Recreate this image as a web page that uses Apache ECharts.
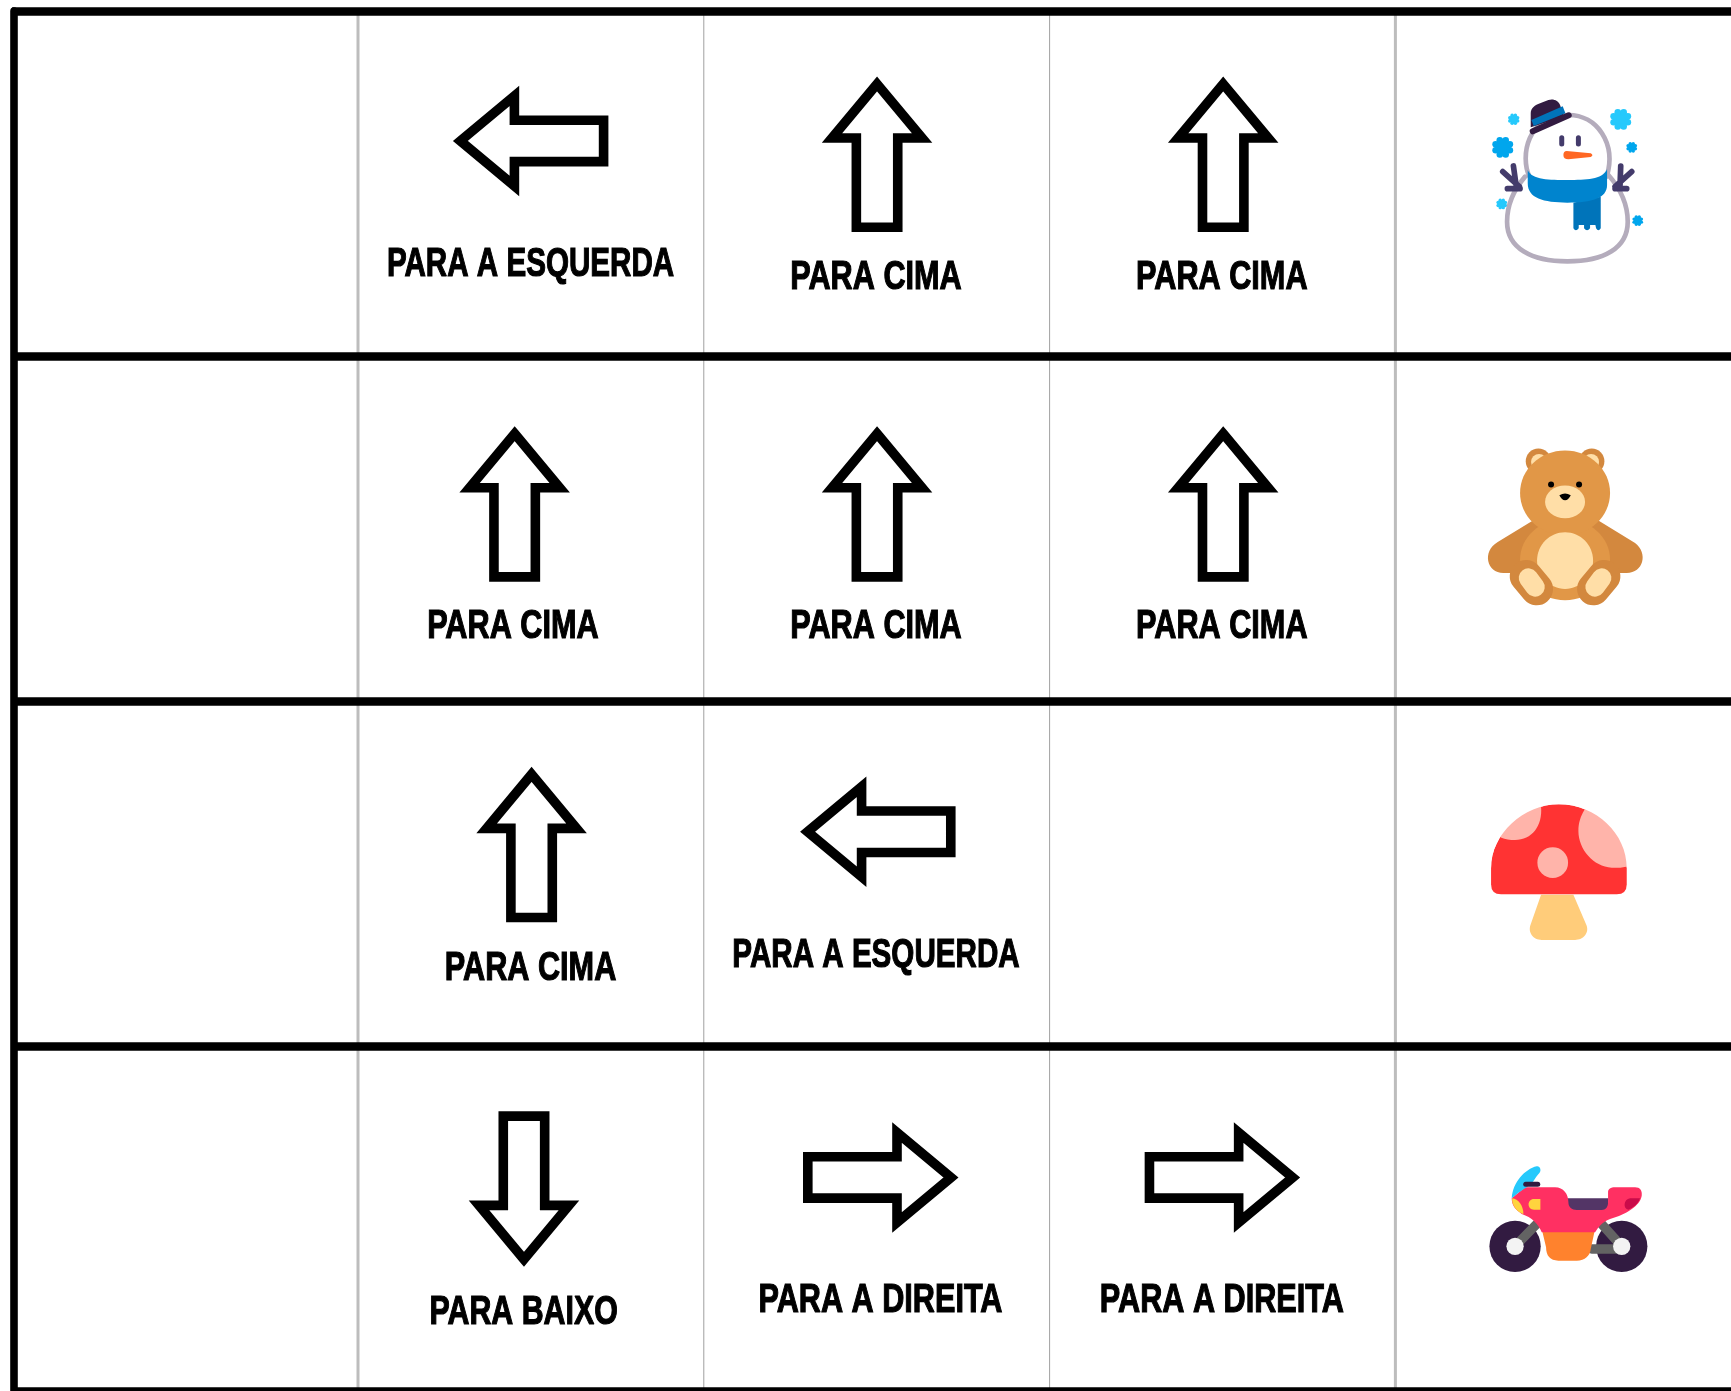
<!DOCTYPE html>
<html><head><meta charset="utf-8">
<style>html,body{margin:0;padding:0;background:#fff}#c{width:1731px;height:1391px}</style>
<script src="https://cdn.jsdelivr.net/npm/echarts@6/dist/echarts.min.js"></script>
</head><body><div id="c"></div>
<script>
// table structure, in column / row units of the axes
const columnRules = [1, 2, 3, 4];
const columnRuleWeights = [3, 1, 1, 3];

// arrows
const arrowDirections = ['left','up','up','up','up','up','up','left','down','right','right'];
const arrowCols = [1.500,2.501,3.502,1.453,2.501,3.502,1.502,2.504,1.480,2.511,3.499];
const arrowRows = [0.3765,0.416,0.416,1.4295,1.4295,1.4295,2.417,2.379,3.414,3.381,3.381];

// captions
const captionTexts = ['PARA A ESQUERDA','PARA CIMA','PARA CIMA','PARA CIMA','PARA CIMA','PARA CIMA','PARA CIMA','PARA A ESQUERDA','PARA BAIXO','PARA A DIREITA','PARA A DIREITA'];
const captionCols = [1.499,2.498,3.498,1.448,2.498,3.498,1.499,2.498,1.479,2.511,3.498];
const captionRows = [0.734,0.774,0.774,1.785,1.785,1.785,2.776,2.738,3.772,3.738,3.738];

// pictures of the last column
const iconNames = ['snowman','bear','mushroom','motorcycle'];
const iconCols = [4.187,4.187,4.187,4.187];
const iconRows = [0.1709,1.2134,2.256,3.2986];

const ROTATION = {up:0, left:Math.PI/2, down:Math.PI, right:-Math.PI/2};
const ARROW_OUTLINE = [[0,-70.5],[45,-16.5],[20.7,-16.5],[20.7,72.7],[-20.7,72.7],[-20.7,-16.5],[-45,-16.5]];
const CAPTION_STRETCH = {'PARA A ESQUERDA':0.722,'PARA CIMA':0.748,'PARA BAIXO':0.74,'PARA A DIREITA':0.747};

const p = (d, fill, extra) => ({type:'path', shape:{pathData:d}, style:Object.assign({fill}, extra||{})});
const stroke = (d, color, w) => ({type:'path', shape:{pathData:d}, style:{fill:'none', stroke:color, lineWidth:w, lineCap:'round', lineJoin:'round'}});
const circle = (cx,cy,r,fill) => ({type:'circle', shape:{cx,cy,r}, style:{fill}});
const ellipse = (cx,cy,rx,ry,fill) => ({type:'ellipse', shape:{cx,cy,rx,ry}, style:{fill}});
function flake(cx,cy,r,fill){
  const out=[circle(cx,cy,r*0.72,fill)];
  for(let i=0;i<8;i++){const a=i*Math.PI/4+Math.PI/8;out.push(circle(cx+Math.cos(a)*r*0.7,cy+Math.sin(a)*r*0.7,r*0.3,fill));}
  return out;
}
const OUTLINE='#B4ACBC', ARM='#433B6B', HAT='#321B41';
const BEAR_D='#D3883E', BEAR_M='#E19747', BEAR_L='#FFDEA7';
const SPOT='#FFB4AA';
const DRAWINGS = {
  snowman: [
    ...flake(161,148,18,'#26C9FC'),...flake(128,232,33,'#00A6ED'),...flake(482,148,33,'#26C9FC'),
    ...flake(515,232,17,'#00A6ED'),...flake(125,402,17,'#26C9FC'),...flake(533,452,17,'#00A6ED'),
    {type:'path',shape:{pathData:'M195 320C165 355 141 400 141 455C141 535 215 574 322 574C430 574 503 535 503 455C503 400 480 355 445 315'},style:{fill:'#fff',stroke:OUTLINE,lineWidth:14,lineCap:'round'}},
    {type:'path',shape:{pathData:'M208 320C180 260 200 135 325 135C410 135 470 220 440 320'},style:{fill:'#fff',stroke:OUTLINE,lineWidth:14,lineCap:'round'}},
    stroke('M160 288L168 345M128 305L178 350M142 356L180 356',ARM,17),
    stroke('M482 288L480 345M515 305L465 350M465 356L500 356',ARM,17),
    p('M340 398L422 380L422 475Q415 487 408 475L406 465L390 465L390 475Q381 487 372 475L372 465L356 465L356 475Q347 487 340 475Z','#0074BA'),
    p('M203 300C215 330 270 330 322 330C380 330 425 330 441 298L441 345C441 385 395 398 322 398C250 398 203 385 203 340Z','#0084CE'),
    stroke('M305 203L305 222M355 203L355 222',ARM,15),
    p('M320 243L392 250Q402 256 392 261L325 268Q310 268 310 255Q310 243 320 243Z','#FF6723'),
    p('M212 172L212 130C212 115 225 105 240 100L265 90C280 85 295 92 300 105L312 140Z',HAT),
    p('M214 150L308 109L316 130L221 168Z','#0074BA'),
    stroke('M218 184L326 136',HAT,18)
  ],
  bear: [
    p('M113 337L220 272L410 270L525 340C565 370 550 430 500 430L130 430C80 430 65 365 113 337Z',BEAR_D),
    circle(235,95,38,BEAR_D),circle(395,95,38,BEAR_D),
    circle(237,97,24,BEAR_L),circle(393,97,24,BEAR_L),
    ellipse(315,390,135,122,BEAR_M),
    ellipse(315,190,135,127,BEAR_M),
    ellipse(315,393,84,85,BEAR_L),
    ellipse(315,217,60,49,BEAR_L),
    circle(273,165,9,'#000'),circle(357,165,9,'#000'),
    p('M298 197Q315 186 332 197Q325 212 315 212Q305 212 298 197Z','#000'),
    stroke('M198 440L230 478',BEAR_D,98),stroke('M432 440L400 478',BEAR_D,98),
    stroke('M205 445L225 472',BEAR_L,58),stroke('M425 445L405 472',BEAR_L,58)
  ],
  mushroom: [
    p('M243 316L340 316L378 405C390 430 370 452 345 452L245 452C220 452 202 430 212 405Z','#FFCC7A'),
    p('M93 235C93 135 190 45 296 45C410 45 500 135 500 235L500 285Q500 315 470 315L123 315Q93 315 93 285Z','#FF3333'),
    p('M124 145C135 150 150 152 165 152C215 152 248 110 243 53L243 30L100 30L100 130Z',SPOT),
    p('M373 62L385 30L520 30L520 232L498 232C480 236 465 236 455 235C400 232 355 180 355 125C355 100 362 80 373 62Z',SPOT),
    circle(278,220,46,SPOT),
    p('M80 235L80 20L525 20L525 235L500 235C500 135 410 45 296 45C190 45 93 135 93 235Z','#fff')
  ],
  motorcycle: [
    circle(165,292,77,HAT),circle(485,292,77,HAT),
    stroke('M165 292L230 225M485 292L425 225M395 300L485 300','#636363',28),
    circle(165,292,26,'#F3F3F3'),circle(485,292,26,'#F3F3F3'),
    p('M245 240L405 240L392 300C390 320 375 335 350 335L295 335C270 335 258 320 258 295Z','#FF822D'),
    p('M320 148L445 148L445 170Q440 185 425 185L345 185Q325 185 320 165Z','#533566'),
    p('M195 115L285 115C310 115 325 135 325 160C325 175 335 183 350 183L425 183C437 183 444 175 444 160L444 130C444 120 452 115 465 115L525 115C540 115 547 125 545 140C540 170 500 195 450 210C425 220 415 235 405 250L245 250C235 225 215 205 185 195C165 180 155 170 155 148Z','#FF3062'),
    p('M155 148C158 100 195 60 230 52C240 50 245 65 238 72C225 85 220 105 195 118C175 130 165 140 155 148Z','#26C9FC'),
    stroke('M197 106L233 106',HAT,15),
    p('M156 148C175 150 190 170 190 196C170 188 155 170 156 148Z','#FFD43E'),
    p('M222 150L241 150L241 182L222 182C200 182 200 150 222 150Z','#FFD43E'),
    p('M540 148L510 148C490 150 488 180 505 182C520 175 535 165 540 148Z','#CA0B4A')
  ]
};

const chart = echarts.init(document.getElementById('c'), null, {renderer:'canvas'});
chart.setOption({
  animation:false,
  backgroundColor:'#fff',
  grid:{left:12.2, top:11, right:0, bottom:0, containLabel:false},
  xAxis:{type:'value', min:0, max:4.9705,
    axisLabel:{show:false}, axisTick:{show:false}, axisLine:{show:false}, splitLine:{show:false}},
  yAxis:{type:'value', min:0, max:4, interval:1, inverse:true, z:5, offset:-1.3,
    axisLabel:{show:false}, axisTick:{show:false},
    axisLine:{show:true, onZero:false, lineStyle:{color:'#000', width:7.6}},
    splitLine:{show:true, lineStyle:{color:'#000', width:8.6}}},
  tooltip:{show:false},
  series:[
    {type:'custom', clip:false, silent:true, z:1,
     data:columnRules.map((v,i)=>[v,columnRuleWeights[i]]),
     renderItem(params, api){
       const a=api.coord([api.value(0),0]), b=api.coord([api.value(0),4]);
       return {type:'line', shape:{x1:a[0],y1:a[1],x2:b[0],y2:b[1]}, style:{stroke:api.value(1)>1?'#bdbdbd':'#a0a0a0', lineWidth:api.value(1)}};
     }},
    {type:'custom', clip:false, silent:true, z:2,
     data:arrowDirections.map((d,i)=>[arrowCols[i],arrowRows[i]]),
     encode:{x:0,y:1},
     renderItem(params, api){
       const pos=api.coord([api.value(0),api.value(1)]);
       const dir=arrowDirections[params.dataIndex];
       return {type:'polygon', x:pos[0], y:pos[1], rotation:ROTATION[dir],
         shape:{points:ARROW_OUTLINE},
         style:{fill:'#fff', stroke:'#000', lineWidth:9.6, lineJoin:'miter', miterLimit:10}};
     }},
    {type:'custom', clip:false, silent:true, z:3,
     data:captionTexts.map((t,i)=>[captionCols[i],captionRows[i]]),
     encode:{x:0,y:1},
     renderItem(params, api){
       const pos=api.coord([api.value(0),api.value(1)]);
       const t=captionTexts[params.dataIndex];
       return {type:'text', x:pos[0], y:pos[1], scaleX:CAPTION_STRETCH[t],
         style:{text:t, x:0, y:0, align:'center', verticalAlign:'middle',
           font:'bold 41px "Liberation Sans", sans-serif', fill:'#000', stroke:'#000', lineWidth:1.2}};
     }},
    {type:'custom', clip:false, silent:true, z:3,
     data:iconNames.map((n,i)=>[iconCols[i],iconRows[i]]),
     encode:{x:0,y:1},
     renderItem(params, api){
       const pos=api.coord([api.value(0),api.value(1)]);
       return {type:'group', x:pos[0], y:pos[1], scaleX:1/3, scaleY:1/3,
         children:DRAWINGS[iconNames[params.dataIndex]]};
     }}
  ]
});
</script></body></html>
